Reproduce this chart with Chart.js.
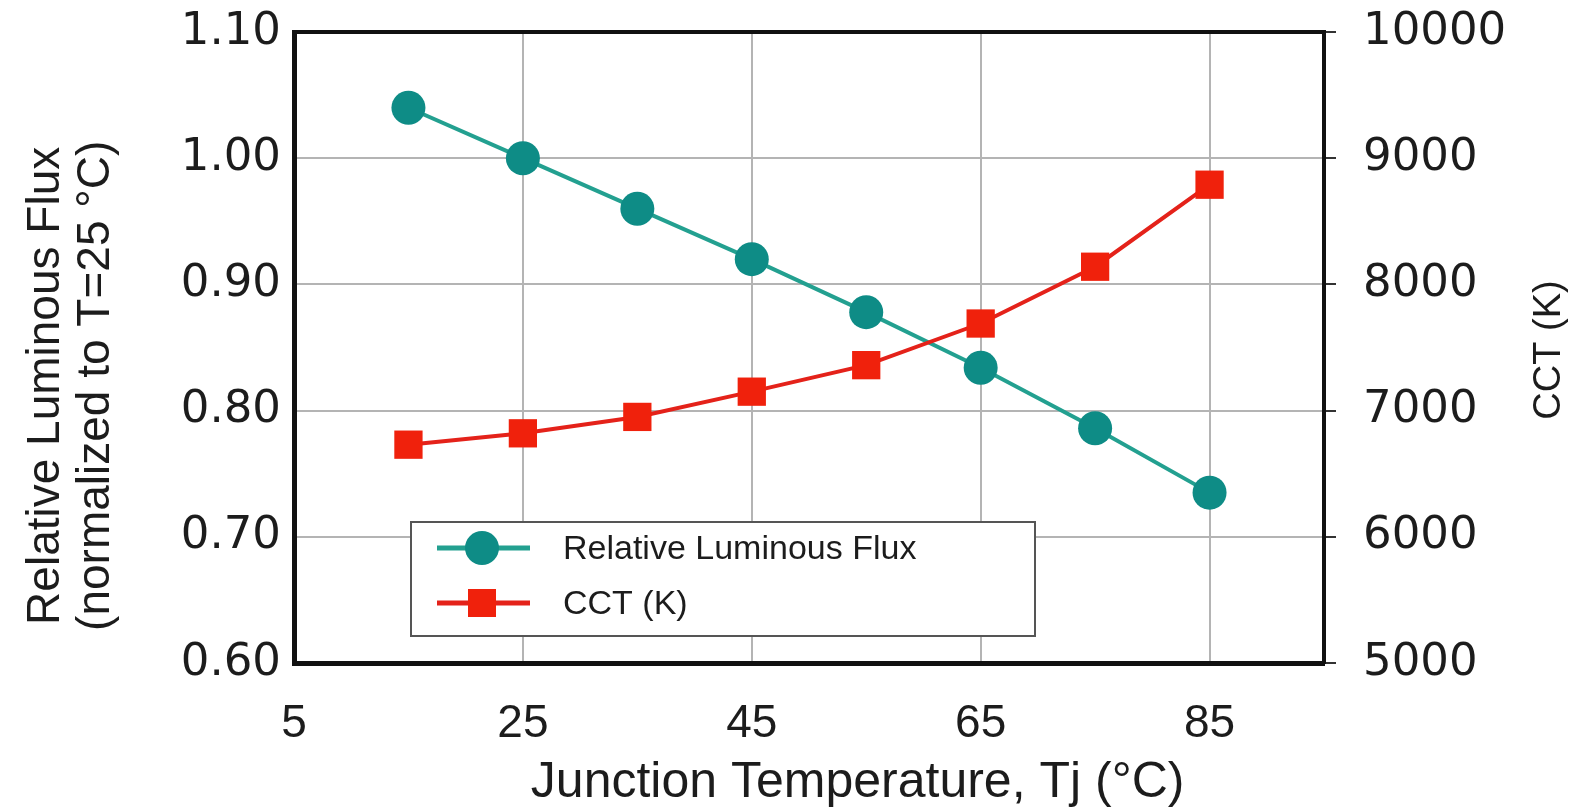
<!DOCTYPE html>
<html>
<head>
<meta charset="utf-8">
<script src="https://cdn.jsdelivr.net/npm/chart.js@4/dist/chart.umd.min.js"></script>
<style>
  body { margin: 0; background: #fff; }
  canvas { display: block; }
</style>
</head>
<body>
<canvas id="tjChart" width="1583" height="808"></canvas>
<script>
// junction temperature (°C)
const tempVals = [15, 25, 35, 45, 55, 65, 75, 85];
const fluxVals = [1.04, 1.00, 0.96, 0.92, 0.878, 0.834, 0.786, 0.735];
const cctVals = [6730, 6820, 6950, 7150, 7360, 7690, 8140, 8790];

const tempTicks = [5, 25, 45, 65, 85];
const fluxTicks = [0.60, 0.70, 0.80, 0.90, 1.00, 1.10];
const cctTicks = [5000, 6000, 7000, 8000, 9000, 10000];

const TEAL = '#0e8c86';
const TEAL_LINE = '#23a090';
const RED = '#f0210c';
const RED_LINE = '#e4221a';
const GRID = '#b4b4b4';
const INK = '#1c1c1c';

const tickFont = { family: '"DejaVu Sans", sans-serif', size: 45 };
const textFont = '"Liberation Sans", Arial, sans-serif';

// legend inside plot + right-hand axis title (reads bottom to top)
const extras = {
    id: 'extras',
    afterDatasetsDraw(chart) {
        const { ctx, chartArea: a } = chart;
        const x = a.left + 117, y = a.top + 490, w = 624, h = 114;
        ctx.save();
        ctx.fillStyle = '#fff';
        ctx.fillRect(x, y, w, h);
        ctx.strokeStyle = '#555';
        ctx.lineWidth = 2;
        ctx.strokeRect(x, y, w, h);

        const rows = [chart.data.datasets[0], chart.data.datasets[1]];
        rows.forEach((ds, i) => {
            const cy = y + 26 + i * 55;
            ctx.strokeStyle = ds.borderColor;
            ctx.lineWidth = 5;
            ctx.beginPath();
            ctx.moveTo(x + 26, cy);
            ctx.lineTo(x + 119, cy);
            ctx.stroke();
            ctx.fillStyle = ds.pointBackgroundColor;
            if (ds.pointStyle === 'circle') {
                ctx.beginPath();
                ctx.arc(x + 71, cy, 17, 0, Math.PI * 2);
                ctx.fill();
            } else {
                ctx.fillRect(x + 71 - 14, cy - 14, 28, 28);
            }
            ctx.fillStyle = INK;
            ctx.font = '34px ' + textFont;
            ctx.textBaseline = 'middle';
            ctx.textAlign = 'left';
            ctx.fillText(ds.label, x + 152, cy + 2);
        });

        ctx.translate(1550, 350);
        ctx.rotate(-Math.PI / 2);
        ctx.font = '38px ' + textFont;
        ctx.textAlign = 'center';
        ctx.textBaseline = 'middle';
        ctx.fillStyle = INK;
        ctx.fillText('CCT (K)', 0, 0);
        ctx.restore();
    }
};

// fixed axis box sizes so the plot frame lands where the original has it
const fixWidth = w => s => { s.width = w; s.paddingTop = 0; s.paddingBottom = 0; };

new Chart(document.getElementById('tjChart'), {
    type: 'line',
    data: {
        datasets: [{
            label: 'Relative Luminous Flux',
            data: tempVals.map((t, i) => ({ x: t, y: fluxVals[i] })),
            yAxisID: 'y',
            borderColor: TEAL_LINE,
            borderWidth: 4,
            pointStyle: 'circle',
            pointRadius: 17,
            pointBackgroundColor: TEAL,
            pointBorderWidth: 0,
            tension: 0,
            order: 1
        }, {
            label: 'CCT (K)',
            data: tempVals.map((t, i) => ({ x: t, y: cctVals[i] })),
            yAxisID: 'y2',
            borderColor: RED_LINE,
            borderWidth: 4,
            pointStyle: 'rect',
            pointRadius: 20,
            pointBackgroundColor: RED,
            pointBorderWidth: 0,
            tension: 0,
            order: 0
        }]
    },
    options: {
        responsive: false,
        devicePixelRatio: 1,
        animation: false,
        layout: { padding: { top: 32, left: 0, right: 0, bottom: 0 } },
        plugins: {
            legend: { display: false },
            tooltip: { enabled: false }
        },
        scales: {
            x: {
                type: 'linear',
                position: 'bottom',
                min: 5,
                max: 95,
                afterBuildTicks: s => { s.ticks = tempTicks.map(v => ({ value: v })); },
                afterFit: s => { s.height = 145; s.paddingLeft = 0; s.paddingRight = 0; },
                grid: { color: GRID, lineWidth: 2, drawTicks: false },
                border: { color: '#111', width: 5 },
                ticks: { color: INK, padding: 34, font: { family: textFont, size: 46 } },
                title: {
                    display: true,
                    text: '       Junction Temperature, Tj (°C)',
                    color: INK,
                    font: { family: textFont, size: 50, lineHeight: 1 },
                    padding: { top: 0, bottom: 0 }
                }
            },
            xTop: {
                type: 'linear',
                position: 'top',
                min: 5,
                max: 95,
                afterFit: s => { s.height = 0; s.paddingLeft = 0; s.paddingRight = 0; },
                ticks: { display: false },
                grid: { display: false, drawTicks: false },
                border: { color: '#111', width: 4 }
            },
            y: {
                type: 'linear',
                position: 'left',
                min: 0.6,
                max: 1.1,
                afterBuildTicks: s => { s.ticks = fluxTicks.map(v => ({ value: v })); },
                afterFit: fixWidth(294),
                grid: { color: GRID, lineWidth: 2, drawTicks: false },
                border: { color: '#111', width: 5 },
                ticks: { color: INK, padding: 13, font: tickFont, callback: v => v.toFixed(2) },
                title: {
                    display: true,
                    text: ['Relative Luminous Flux      ', '(normalized to T=25 °C)      '],
                    color: INK,
                    font: { family: textFont, size: 46, lineHeight: 50 / 46 },
                    padding: { top: 21, bottom: 0 }
                }
            },
            y2: {
                type: 'linear',
                position: 'right',
                min: 5000,
                max: 10000,
                afterBuildTicks: s => { s.ticks = cctTicks.map(v => ({ value: v })); },
                afterFit: fixWidth(259),
                grid: { drawOnChartArea: false, drawTicks: true, tickLength: 12, color: '#333', lineWidth: 2 },
                border: { color: '#111', width: 4 },
                ticks: { color: INK, padding: 27, font: tickFont, callback: v => String(v) }
            }
        }
    },
    plugins: [extras]
});
</script>
</body>
</html>
